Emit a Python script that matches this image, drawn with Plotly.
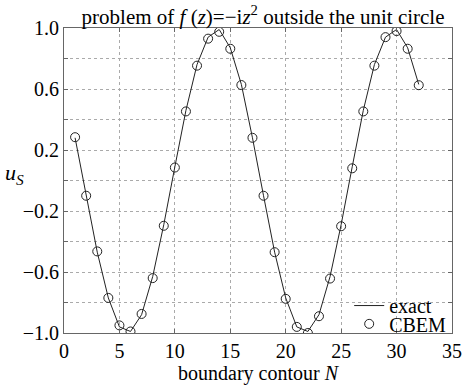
import plotly.graph_objects as go

# boundary node index along the contour
N = list(range(1, 33))

# exact boundary values u_S
exact = [0.28, -0.10, -0.47, -0.77, -0.96, -0.99, -0.88, -0.63, -0.29, 0.09,
         0.46, 0.76, 0.94, 0.99, 0.87, 0.63, 0.28, -0.10, -0.47, -0.77,
         -0.96, -0.99, -0.88, -0.63, -0.29, 0.09, 0.46, 0.76, 0.94, 0.99,
         0.87, 0.63]

# CBEM solution at the same nodes
cbem = [0.284, -0.10, -0.465, -0.77, -0.95, -0.99, -0.875, -0.64, -0.297, 0.085,
        0.453, 0.753, 0.93, 0.975, 0.864, 0.626, 0.28, -0.10, -0.47, -0.776,
        -0.96, -1.0, -0.89, -0.643, -0.30, 0.08, 0.453, 0.753, 0.94, 0.98,
        0.864, 0.625]

x_ticks = [0, 5, 10, 15, 20, 25, 30, 35]
y_ticks = [-1.0, -0.6, -0.2, 0.2, 0.6, 1.0]
y_labels = ["\u22121.0", "\u22120.6", "\u22120.2", "0.2", "0.6", "1.0"]
y_minor = [-0.8, -0.4, 0.0, 0.4, 0.8]

FONT = "Liberation Serif, Times New Roman, serif"
INK = "#222222"

fig = go.Figure()
fig.add_trace(go.Scatter(
    x=N, y=exact, mode="lines", name="exact", legend="legend",
    line=dict(color=INK, width=1),
))
fig.add_trace(go.Scatter(
    x=N, y=cbem, mode="markers", name="CBEM", legend="legend2",
    marker=dict(symbol="circle-open", size=9, color=INK,
                line=dict(width=1, color=INK)),
))

axis_common = dict(
    showline=True, mirror="ticks", linecolor="#666666", linewidth=1,
    ticks="inside", ticklen=4, tickcolor="#666666",
    showgrid=True, gridcolor="#aaaaaa", griddash="dot", gridwidth=1,
    zeroline=False,
    tickfont=dict(family=FONT, size=20, color="black"),
)

fig.update_xaxes(range=[0, 35], tickvals=x_ticks, ticktext=[str(v) for v in x_ticks],
                 title=dict(text="boundary contour <i>N</i>", standoff=0,
                            font=dict(family=FONT, size=20, color="black")),
                 **axis_common)
fig.update_yaxes(range=[-1.0, 1.0], tickvals=y_ticks, ticktext=y_labels,
                 minor=dict(tickvals=y_minor, ticks="inside", ticklen=4,
                            tickcolor="#666666", showgrid=True,
                            gridcolor="#aaaaaa", griddash="dot", gridwidth=1),
                 **axis_common)

fig.add_annotation(
    text="<i>u</i><sub><i>S</i></sub>", xref="paper", yref="paper",
    x=-0.128, y=0.52, showarrow=False, xanchor="center", yanchor="middle",
    font=dict(family=FONT, size=22, color="black"),
)

legend_style = dict(xanchor="left", yanchor="middle",
                    bgcolor="rgba(0,0,0,0)", borderwidth=0,
                    font=dict(family=FONT, size=20, color="black"))

fig.update_layout(
    width=474, height=388,
    margin=dict(l=64, r=12, t=28, b=45),
    paper_bgcolor="white", plot_bgcolor="white",
    font=dict(family=FONT, color="black"),
    title=dict(
        text="problem of <i>f</i> (<i>z</i>)=\u2212i<i>z</i><sup>2</sup> outside the unit circle",
        x=0.555, xanchor="center", y=0.976, yanchor="top",
        font=dict(family=FONT, size=21, color="black"),
    ),
    legend=dict(x=0.735, y=0.09, **legend_style),
    legend2=dict(x=0.735, y=0.03, **legend_style),
    showlegend=True,
)

fig.write_html("out.html")
